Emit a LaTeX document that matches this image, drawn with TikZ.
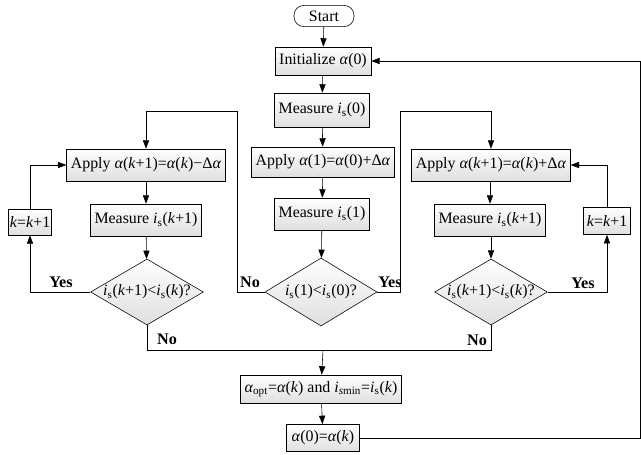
\documentclass[tikz,border=0pt]{standalone}
\usepackage{fontspec}
\setmainfont{Liberation Serif}
\usetikzlibrary{arrows.meta, positioning, shapes.geometric, calc}

\newcommand{\ga}{\textit{α}}
\newcommand{\kk}{\textit{k}}
\newcommand{\cur}[1]{\textit{i}\textsubscript{#1}}

\begin{document}
\begin{tikzpicture}[x=0.025cm, y=-0.025cm, font=\fontsize{11.3}{13}\selectfont,
  box/.style={draw, top color=white, bottom color=gray!25, minimum height=0.75cm, inner sep=3pt, align=center},
  decision/.style={draw, diamond, aspect=1.75, top color=white, bottom color=gray!25, inner sep=0pt},
  term/.style={draw, rounded corners=7pt, minimum width=1.5cm, minimum height=0.53cm, inner sep=2pt},
  arrow/.style={-{Triangle[length=6pt, width=4.4pt]}},
  lbl/.style={font=\bfseries\fontsize{11.5}{13}\selectfont}]
\useasboundingbox (0,0) rectangle (641,455);

% middle column
\node[term] (start) at (324,16) {Start};
\node[box, minimum width=2.33cm, minimum height=0.7cm] (init) at (323,61) {Initialize \ga(0)};
\node[box, minimum width=2.25cm, minimum height=0.85cm] (meas0) at (322,110) {Measure \cur{s}(0)};
\node[box, minimum width=3.5cm] (app1) at (323,162) {Apply \ga(1)=\ga(0)+Δ\ga};
\node[box, minimum width=2.15cm, minimum height=0.8cm] (meas1) at (322,214) {Measure \cur{s}(1)};
\node[decision, minimum width=2.8cm, minimum height=1.7cm] (dec0) at (321,292) {\cur{s}(1)<\cur{s}(0)?};

% left column (decreasing)
\node[box, minimum width=3.7cm, minimum height=0.8cm] (appL) at (146,165) {Apply \ga(\kk+1)=\ga(\kk)−Δ\ga};
\node[box, minimum width=2.3cm, minimum height=0.8cm] (measL) at (146,220) {Measure \cur{s}(\kk+1)};
\node[decision, minimum width=2.8cm, minimum height=1.65cm] (decL) at (147,292) {\cur{s}(\kk+1)<\cur{s}(\kk)?};
\node[box, minimum width=1.05cm, minimum height=0.65cm, inner sep=1pt] (kL) at (30,222) {\kk=\kk+1};

% right column (increasing)
\node[box, minimum width=3.72cm, minimum height=0.8cm] (appR) at (491,165) {Apply \ga(\kk+1)=\ga(\kk)+Δ\ga};
\node[box, minimum width=2.3cm, minimum height=0.8cm] (measR) at (490,220) {Measure \cur{s}(\kk+1)};
\node[decision, minimum width=2.8cm, minimum height=1.65cm] (decR) at (491,292) {\cur{s}(\kk+1)<\cur{s}(\kk)?};
\node[box, minimum width=1.18cm, minimum height=0.68cm, inner sep=1pt] (kR) at (607,221) {\kk=\kk+1};

% bottom
\node[box, minimum width=3.8cm, minimum height=0.7cm] (opt) at (321,389) {\ga\textsubscript{opt}=\ga(\kk) and \textit{i}\textsubscript{\textit{s}min}=\cur{s}(\kk)};
\node[box, minimum width=1.83cm, minimum height=0.68cm] (a0) at (323,438) {\ga(0)=\ga(\kk)};

\coordinate (nl) at (237,111);
\coordinate (ny) at (400,111);
\coordinate (jn) at (323,350);
\coordinate (rt) at (640,61);

\draw[arrow] (start) -- (init);
\draw[arrow] (init) -- (meas0);
\draw[arrow] (meas0) -- (app1);
\draw[arrow] (app1) -- (meas1);
\draw[arrow] (meas1) -- (dec0);
\draw[arrow] (dec0.west) -| (nl) -| (appL.north);
\draw[arrow] (dec0.east) -| (ny) -| (appR.north);

\draw[arrow] (appL) -- (measL);
\draw[arrow] (measL) -- (decL);
\draw[arrow] (decL.west) -| (kL.south);
\draw[arrow] (kL.north) |- (appL.west);

\draw[arrow] (appR.south -| measR) -- (measR);
\draw[arrow] (measR.south -| decR) -- (decR);
\draw[arrow] (decR.east) -| (kR.south);
\draw[arrow] (kR.north) |- (appR.east);

\draw (decL.south) |- (jn);
\draw (decR.south) |- (jn);
\draw[arrow] (jn) -- (opt);
\draw[arrow] (opt) -- (a0);
\draw[arrow] (a0.east) -| (rt) |- (init.east);

\node[lbl] (noM) at (250,282) {No};
\node[lbl] (yesM) at (390,282) {Yes};
\node[lbl] (yesL) at (61,282) {Yes};
\node[lbl] (noL) at (167,339) {No};
\node[lbl] (yesR) at (583,283) {Yes};
\node[lbl] (noR) at (477,340) {No};
\end{tikzpicture}
\end{document}
